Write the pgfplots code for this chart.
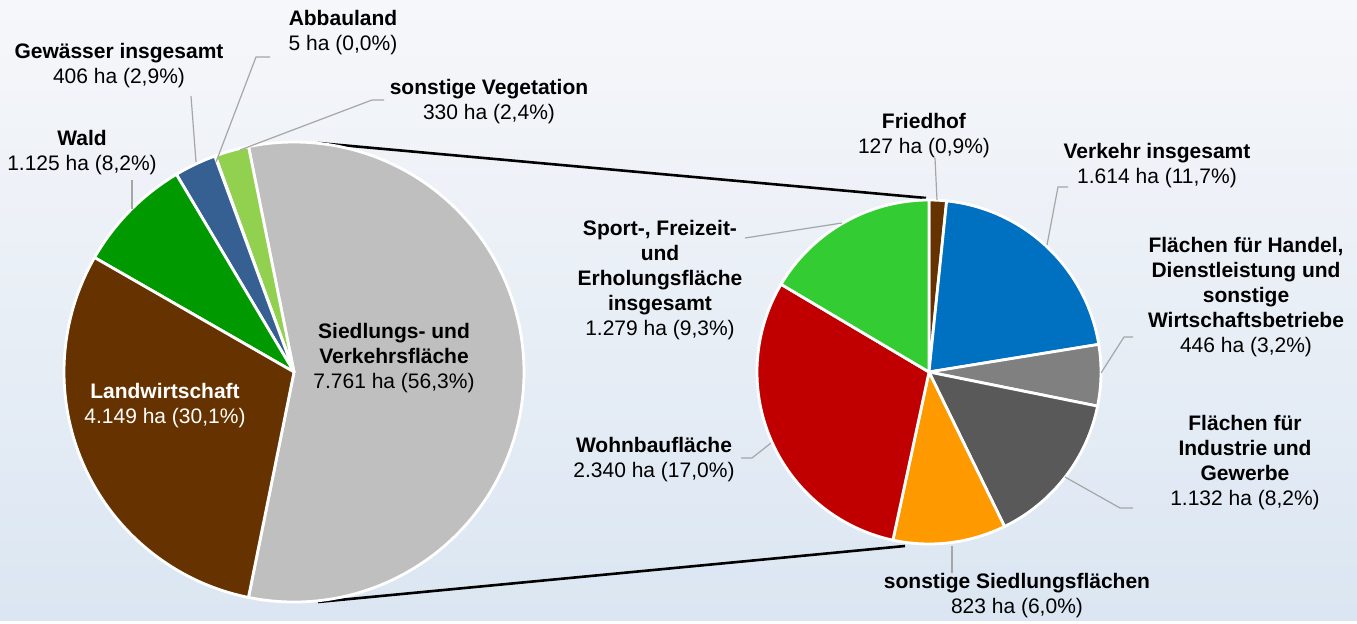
\documentclass[border=0pt]{standalone}
\usepackage{pgfplots}
\pgfplotsset{compat=1.18}
\usepackage{pgfplotstable}
\usepackage{fontspec}
\setmainfont{Liberation Sans}
\definecolor{cSied}{HTML}{BFBFBF}
\definecolor{cVeg}{HTML}{92D050}
\definecolor{cAbb}{HTML}{7F7F7F}
\definecolor{cGew}{HTML}{366092}
\definecolor{cWald}{HTML}{009900}
\definecolor{cLand}{HTML}{663300}
\definecolor{cFried}{HTML}{663300}
\definecolor{cVerk}{HTML}{0070C0}
\definecolor{cHand}{HTML}{808080}
\definecolor{cInd}{HTML}{595959}
\definecolor{cSons}{HTML}{FF9900}
\definecolor{cWohn}{HTML}{C00000}
\definecolor{cSport}{HTML}{33CC33}
\definecolor{lead}{HTML}{A6A6A6}
\definecolor{bgtop}{HTML}{F6F7FA}
\definecolor{bgbot}{HTML}{DBE6F2}

\pgfplotstableread[col sep=comma]{
name,value,color
Siedlungs- und Verkehrsflaeche,7761,cSied
sonstige Vegetation,330,cVeg
Abbauland,5,cAbb
Gewaesser insgesamt,406,cGew
Wald,1125,cWald
Landwirtschaft,4149,cLand
}\lefttable

\pgfplotstableread[col sep=comma]{
name,value,color
Friedhof,127,cFried
Verkehr insgesamt,1614,cVerk
Handel,446,cHand
Industrie,1132,cInd
sonstige Siedlungsflaechen,823,cSons
Wohnbauflaeche,2340,cWohn
Sport,1279,cSport
}\righttable

% #1 table, #2 cx, #3 cy, #4 radius, #5 start mode (0 = first slice centred on 0deg, ccw; 1 = from 90deg, cw)
\newcommand\drawpie[5]{%
  \pgfplotstablegetrowsof{#1}\pgfmathtruncatemacro\N{\pgfplotsretval-1}%
  \def\tot{0}%
  \pgfplotsforeachungrouped \i in {0,...,\N}{%
    \pgfplotstablegetelem{\i}{value}\of{#1}%
    \pgfmathsetmacro\tot{\tot+\pgfplotsretval}}%
  \pgfplotstablegetelem{0}{value}\of{#1}%
  \ifnum#5=0
    \pgfmathsetmacro\cum{-180*(\pgfplotsretval/\tot)}\def\dir{1}%
  \else
    \def\cum{90}\def\dir{-1}%
  \fi
  \pgfplotsforeachungrouped \i in {0,...,\N}{%
    \pgfplotstablegetelem{\i}{value}\of{#1}\let\v\pgfplotsretval
    \pgfplotstablegetelem{\i}{color}\of{#1}\let\c\pgfplotsretval
    \pgfmathsetmacro\a{\cum}%
    \pgfmathsetmacro\b{\cum+\dir*(\v/\tot)*360}%
    \edef\temp{\noexpand\fill[fill=\c,draw=white,line width=1.4pt,line join=round]
      (axis cs:#2,#3) -- ++(\a:#4) arc[start angle=\a,end angle=\b,radius=#4] -- cycle;}%
    \temp
    \let\cum\b
  }%
}

\begin{document}
\begin{tikzpicture}[
  lab/.style={align=center, font=\fontsize{10.5pt}{12.5pt}\selectfont, text=black, inner sep=0pt},
  ld/.style={draw=lead, line width=0.6pt},
]
\begin{axis}[
  x=0.5pt, y=0.5pt,
  xmin=0, xmax=1357, ymin=-620, ymax=0,
  hide axis, clip=false, scale only axis,
]
\fill[top color=bgtop, bottom color=bgbot] (axis cs:0,-620) rectangle (axis cs:1357,0);

% connector lines
\draw[black, line width=1.3pt] (axis cs:318,-143) -- (axis cs:926,-198);
\draw[black, line width=1.3pt] (axis cs:318,-602) -- (axis cs:905,-546);

\drawpie{\lefttable}{294}{-372}{115pt}{0}
\drawpie{\righttable}{929}{-372}{86pt}{1}

% leader lines
\draw[ld] (axis cs:270,-57) -- (axis cs:256,-57) -- (axis cs:216,-162);
\draw[ld] (axis cs:191,-96) -- (axis cs:196,-162);
\draw[ld] (axis cs:384,-100) -- (axis cs:372,-100) -- (axis cs:240,-150);
\draw[ld] (axis cs:132,-180) -- (axis cs:132,-209);
\draw[ld] (axis cs:935,-158) -- (axis cs:937,-200);
\draw[ld] (axis cs:1068,-187) -- (axis cs:1058,-187) -- (axis cs:1047,-245);
\draw[ld] (axis cs:1133,-337) -- (axis cs:1124,-337) -- (axis cs:1101,-373);
\draw[ld] (axis cs:1065,-477) -- (axis cs:1120,-508) -- (axis cs:1133,-508);
\draw[ld] (axis cs:952,-546) -- (axis cs:952,-573);
\draw[ld] (axis cs:771,-443) -- (axis cs:752,-458) -- (axis cs:741,-458);
\draw[ld] (axis cs:842,-223) -- (axis cs:745,-238);

% labels
\node[lab] at (axis cs:343,-32.5) {\textbf{Abbauland}\\5 ha (0,0\%)};
\node[lab] at (axis cs:119,-65.5) {\textbf{Gewässer insgesamt}\\406 ha (2,9\%)};
\node[lab] at (axis cs:489,-101.5) {\textbf{sonstige Vegetation}\\330 ha (2,4\%)};
\node[lab] at (axis cs:82,-152.5) {\textbf{Wald}\\1.125 ha (8,2\%)};
\node[lab, text=white] at (axis cs:165,-405.5) {\textbf{Landwirtschaft}\\4.149 ha (30,1\%)};
\node[lab] at (axis cs:394,-358.5) {\textbf{Siedlungs- und}\\\textbf{Verkehrsfläche}\\7.761 ha (56,3\%)};
\node[lab] at (axis cs:924,-136) {\textbf{Friedhof}\\127 ha (0,9\%)};
\node[lab] at (axis cs:1157,-165.5) {\textbf{Verkehr insgesamt}\\1.614 ha (11,7\%)};
\node[lab] at (axis cs:1246,-297.5) {\textbf{Flächen für Handel,}\\\textbf{Dienstleistung und}\\\textbf{sonstige}\\\textbf{Wirtschaftsbetriebe}\\446 ha (3,2\%)};
\node[lab] at (axis cs:660,-280) {\textbf{Sport-, Freizeit-}\\\textbf{und}\\\textbf{Erholungsfläche}\\\textbf{insgesamt}\\1.279 ha (9,3\%)};
\node[lab] at (axis cs:654,-459.5) {\textbf{Wohnbaufläche}\\2.340 ha (17,0\%)};
\node[lab] at (axis cs:1245,-462.5) {\textbf{Flächen für}\\\textbf{Industrie und}\\\textbf{Gewerbe}\\1.132 ha (8,2\%)};
\node[lab] at (axis cs:1017,-596) {\textbf{sonstige Siedlungsflächen}\\823 ha (6,0\%)};
\end{axis}
\end{tikzpicture}
\end{document}
